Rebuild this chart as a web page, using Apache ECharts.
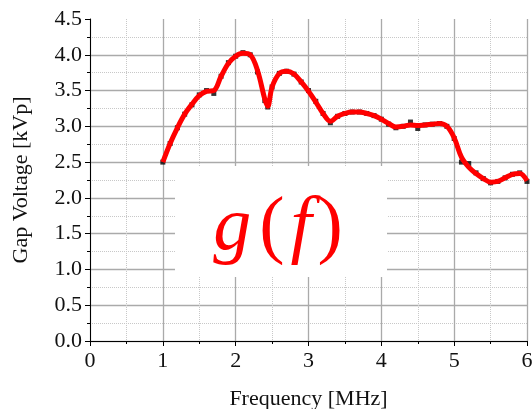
<!DOCTYPE html>
<html>
<head>
<meta charset="utf-8">
<script src="https://cdn.jsdelivr.net/npm/echarts@6/dist/echarts.min.js"></script>
<style>
  html, body { margin: 0; padding: 0; background: #fff; }
  #chart { width: 532px; height: 409px; }
</style>
</head>
<body>
<div id="chart"></div>
<script>
// measured points (MHz, kVp)
var freq = [1.0, 1.1, 1.2, 1.3, 1.4, 1.5, 1.6, 1.7, 1.8, 1.9, 2.0, 2.1, 2.2, 2.3, 2.4, 2.44, 2.5, 2.6, 2.7, 2.8, 2.9,
  3.0, 3.1, 3.2, 3.3, 3.4, 3.5, 3.6, 3.7, 3.8, 3.9, 4.0, 4.1, 4.2, 4.3, 4.4, 4.5, 4.6, 4.7, 4.8, 4.9,
  5.0, 5.1, 5.2, 5.3, 5.4, 5.5, 5.6, 5.7, 5.8, 5.9, 6.0];
var volts = [2.50, 2.76, 2.98, 3.17, 3.30, 3.44, 3.50, 3.46, 3.70, 3.89, 3.98, 4.03, 4.00, 3.76, 3.36, 3.27, 3.55, 3.74, 3.77, 3.73, 3.62,
  3.50, 3.35, 3.18, 3.05, 3.14, 3.18, 3.20, 3.20, 3.18, 3.15, 3.10, 3.03, 2.98, 3.00, 3.06, 2.97, 3.02, 3.03, 3.04, 3.00,
  2.83, 2.50, 2.48, 2.35, 2.27, 2.21, 2.23, 2.28, 2.33, 2.35, 2.23];
// fitted curve g(f)
var fit = [2.50, 2.76, 2.98, 3.17, 3.31, 3.43, 3.49, 3.50, 3.70, 3.88, 3.98, 4.02, 4.00, 3.78, 3.38, 3.28, 3.55, 3.74, 3.77, 3.73, 3.62,
  3.49, 3.34, 3.18, 3.07, 3.14, 3.18, 3.20, 3.20, 3.18, 3.15, 3.10, 3.04, 2.99, 3.00, 3.02, 3.01, 3.02, 3.03, 3.04, 3.00,
  2.84, 2.57, 2.43, 2.34, 2.27, 2.22, 2.23, 2.28, 2.33, 2.34, 2.24];
var xTicks = [0, 1, 2, 3, 4, 5, 6];

var pts = freq.map(function (f, i) { return [f, volts[i]]; });
var curve = freq.map(function (f, i) { return [f, fit[i]]; });

var font = 'Liberation Serif';
var myChart = echarts.init(document.getElementById('chart'));
var option = {
  animation: false,
  backgroundColor: '#fff',
  grid: { left: 90, right: 5, top: 19, bottom: 68, outerBoundsMode: 'none', containLabel: false },
  xAxis: {
    type: 'value',
    min: 0, max: 6, interval: 1,
    name: 'Frequency [MHz]',
    nameLocation: 'middle',
    nameGap: 47,
    nameTextStyle: { fontFamily: font, fontSize: 22, color: '#111' },
    axisLine: { show: true, onZero: false, lineStyle: { color: '#000', width: 1 } },
    axisTick: { show: true, length: 5, lineStyle: { color: '#000' } },
    minorTick: { show: true, splitNumber: 2, length: 3, lineStyle: { color: '#000' } },
    axisLabel: {
      fontFamily: font, fontSize: 22, color: '#111', margin: 9,
      formatter: function (v) { return xTicks.indexOf(v) >= 0 ? String(v) : ''; }
    },
    splitLine: { show: true, lineStyle: { color: '#aaaaaa', width: 1.3 } },
    minorSplitLine: { show: true, lineStyle: { color: '#c8c8c8', type: 'dotted', width: 1 } }
  },
  yAxis: {
    type: 'value',
    min: 0, max: 4.5, interval: 0.5,
    name: 'Gap Voltage [kVp]',
    nameLocation: 'middle',
    nameGap: 58,
    nameTextStyle: { fontFamily: font, fontSize: 22, color: '#111' },
    axisLine: { show: true, lineStyle: { color: '#000', width: 1 } },
    axisTick: { show: true, length: 5, lineStyle: { color: '#000' } },
    minorTick: { show: true, splitNumber: 2, length: 3, lineStyle: { color: '#000' } },
    axisLabel: {
      fontFamily: font, fontSize: 22, color: '#111', margin: 8,
      formatter: function (v) { return v.toFixed(1); }
    },
    splitLine: { show: true, showMaxLine: false, lineStyle: { color: '#aaaaaa', width: 1.3 } },
    minorSplitLine: { show: true, lineStyle: { color: '#c8c8c8', type: 'dotted', width: 1 } }
  },
  graphic: [
    {
      type: 'rect',
      shape: { x: 175, y: 166, width: 212, height: 111 },
      style: { fill: '#fff' },
      z: 100
    },
    {
      type: 'text',
      x: 278, y: 229,
      z: 101,
      style: {
        text: '{i|g}{n|(}{f|f}{n|)}',
        align: 'center',
        verticalAlign: 'middle',
        rich: {
          i: { fontFamily: font, fontStyle: 'italic', fontSize: 76, fill: '#ff0000', padding: [0, 8, 0, 0] },
          f: { fontFamily: font, fontStyle: 'italic', fontSize: 76, fill: '#ff0000', padding: [0, 6, 0, 6] },
          n: { fontFamily: font, fontSize: 76, fill: '#ff0000' }
        }
      }
    }
  ],
  series: [
    {
      type: 'scatter',
      data: pts,
      symbol: 'rect',
      symbolSize: 5,
      itemStyle: { color: '#000' },
      z: 2
    },
    {
      type: 'line',
      data: curve,
      smooth: 0.35,
      symbol: 'none',
      lineStyle: { color: '#ff0000', width: 5 },
      z: 3
    }
  ]
};
myChart.setOption(option);
window.addEventListener('resize', function () {
  myChart.resize();
});
</script>
</body>
</html>
